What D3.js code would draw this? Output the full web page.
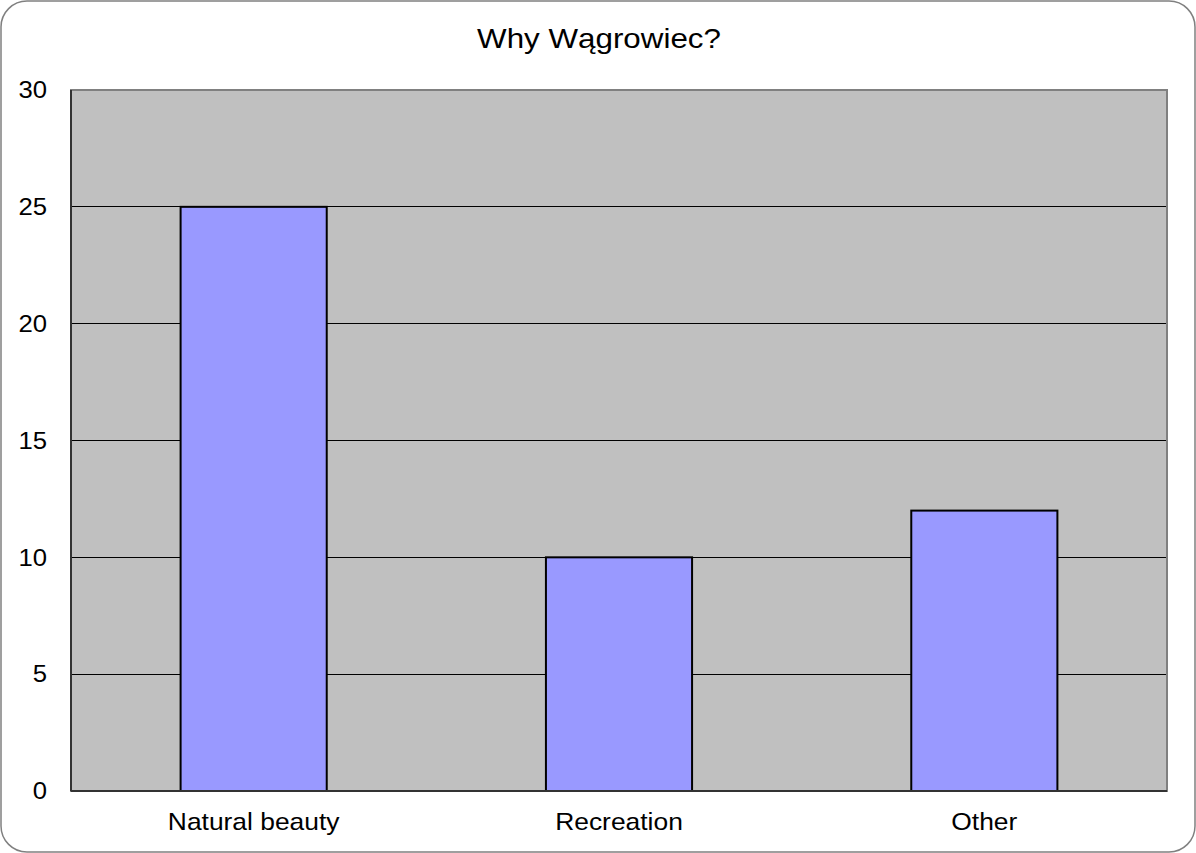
<!DOCTYPE html>
<html>
<head>
<meta charset="utf-8">
<script src="https://cdn.jsdelivr.net/npm/d3@7"></script>
<style>
  body { margin: 0; background: #fff; }
  svg text { font-family: "Liberation Sans", Arial, sans-serif; fill: #000; }
</style>
</head>
<body>
<div id="chart"></div>
<script>
const TITLE = "Why Wągrowiec?";
const categories = ["Natural beauty", "Recreation", "Other"];
const values = [25, 10, 12];
const yTicks = [0, 5, 10, 15, 20, 25, 30];

const W = 1196, H = 853;
const M = {top: 90, right: 29, bottom: 62, left: 71};
const width = W - M.left - M.right;
const height = H - M.top - M.bottom;
const STRETCH = 1.1; // text in the original is a bit wide

const svg = d3.select("#chart")
    .append("svg")
        .attr("width", W)
        .attr("height", H);

// outer frame
svg.append("rect")
    .attr("x", 1).attr("y", 1)
    .attr("width", W - 2).attr("height", H - 2)
    .attr("rx", 26).attr("ry", 26)
    .attr("fill", "#fff")
    .attr("stroke", "#808080")
    .attr("stroke-width", 1.5);

svg.append("g")
    .attr("transform", `translate(${W / 2 + 1}, 48) scale(1.12, 1)`)
  .append("text")
    .attr("text-anchor", "middle")
    .style("font-size", "28px")
    .text(TITLE);

const g = svg.append("g")
    .attr("transform", `translate(${M.left}, ${M.top})`);

const x = d3.scaleBand()
    .domain(categories)
    .range([0, width])
    .paddingInner(0.6)
    .paddingOuter(0.3);

const y = d3.scaleLinear()
    .domain([0, 30])
    .range([height, 0]);

g.append("rect")
    .attr("width", width)
    .attr("height", height)
    .attr("fill", "#c0c0c0");

// gridlines
g.append("g")
    .selectAll("line")
    .data(yTicks.filter(t => t > 0 && t < 30))
    .enter().append("line")
        .attr("x1", 0).attr("x2", width)
        .attr("y1", d => y(d)).attr("y2", d => y(d))
        .attr("stroke", "#000")
        .attr("stroke-width", 1)
        .attr("shape-rendering", "crispEdges");

// plot border
g.append("rect")
    .attr("width", width)
    .attr("height", height)
    .attr("fill", "none")
    .attr("stroke", "#808080")
    .attr("stroke-width", 2);

g.selectAll(".bar")
    .data(values)
    .enter().append("rect")
        .attr("class", "bar")
        .attr("x", (d, i) => x(categories[i]))
        .attr("y", d => y(d))
        .attr("width", x.bandwidth())
        .attr("height", d => height - y(d))
        .attr("fill", "#9999ff")
        .attr("stroke", "#000")
        .attr("stroke-width", 2);

// axes lines
g.append("line")
    .attr("x1", 0).attr("x2", 0).attr("y1", 0).attr("y2", height)
    .attr("stroke", "#333").attr("stroke-width", 2);
g.append("line")
    .attr("x1", 0).attr("x2", width).attr("y1", height).attr("y2", height)
    .attr("stroke", "#333").attr("stroke-width", 2);

const yAxis = g.append("g")
    .call(d3.axisLeft(y).tickValues(yTicks).tickSize(0).tickPadding(24));
yAxis.select(".domain").remove();
yAxis.selectAll("text")
    .style("font-size", "24px")
    .attr("fill", "#000")
    .attr("x", -24 / 1.07)
    .attr("transform", "scale(1.07, 1)");

const xAxis = g.append("g")
    .attr("transform", `translate(0, ${height})`)
    .call(d3.axisBottom(x).tickSize(0).tickPadding(22));
xAxis.select(".domain").remove();
xAxis.selectAll("text")
    .style("font-size", "24px")
    .attr("fill", "#000")
    .attr("transform", `scale(${STRETCH}, 1)`);
</script>
</body>
</html>
